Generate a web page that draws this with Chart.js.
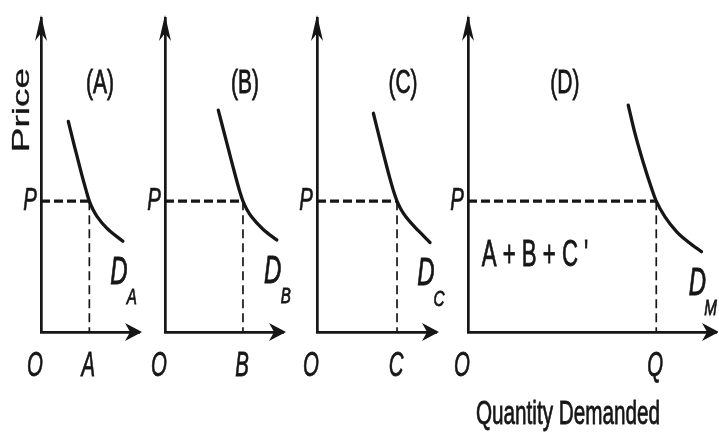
<!DOCTYPE html>
<html>
<head>
<meta charset="utf-8">
<script src="https://cdn.jsdelivr.net/npm/chart.js@4.4.1/dist/chart.umd.min.js"></script>
<style>
    html, body { margin: 0; padding: 0; background: #fff; }
    #wrap { position: relative; width: 719px; height: 432px; overflow: hidden; }
    .panel { position: absolute; top: 0; height: 432px; }
</style>
</head>
<body>
<div id="wrap"></div>
<script>
// Market demand = horizontal sum of individual demand curves.
// Values: price on y, quantity on x.
const priceLevel = 5;
const priceMax = 12;
const panelTitles = ['(A)', '(B)', '(C)', '(D)'];
const qtyTickLabels = ['A', 'B', 'C', 'Q'];
const curveSubscripts = ['A', 'B', 'C', 'M'];
const qtyAtPrice = [1.86, 3.0, 3.08, 7.25];
const qtyAxisMax = [3.77, 4.54, 4.58, 9.55];

const demandQtyA = [1.05, 1.3, 1.55, 1.73, 1.86, 2.0, 2.16, 2.53, 3.15];
const demandPriceA = [8.05, 7.05, 6.08, 5.43, 5.0, 4.68, 4.41, 3.97, 3.47];
const demandQtyB = [2.05, 2.45, 2.7, 2.88, 3.0, 3.15, 3.33, 3.78, 4.3];
const demandPriceB = [8.48, 6.95, 6.0, 5.36, 5.0, 4.68, 4.4, 3.92, 3.52];
const demandQtyC = [2.17, 2.55, 2.8, 2.97, 3.08, 3.23, 3.42, 3.9, 4.35];
const demandPriceC = [8.36, 6.84, 5.89, 5.31, 5.0, 4.69, 4.4, 3.87, 3.42];
const demandQtyM = [6.17, 6.42, 6.74, 7.07, 7.25, 7.58, 8.03, 8.47, 8.99];
const demandPriceM = [8.67, 7.63, 6.51, 5.49, 5.0, 4.41, 3.84, 3.45, 3.07];

const demandQty = [demandQtyA, demandQtyB, demandQtyC, demandQtyM];
const demandPrice = [demandPriceA, demandPriceB, demandPriceC, demandPriceM];

// layout only
const panelLeft = [0, 125, 277, 428];
const yAxisWidth = [41, 40, 40, 40];
const rightPad = [12, 10, 10, 2];
const plotTop = 18;
const xAxisHeight = 100;
const unitPx = 26;
const titleAt = [[2.27, 9.48], [3.08, 9.48], [3.31, 9.48], [3.73, 9.48]];

const ink = '#161616';
const fam = "'Liberation Sans', Arial, sans-serif";

// text in the scan is tall and narrow, so it is drawn squeezed
function drawText(ctx, text, x, y, font, sx, sy, rot, weight) {
    ctx.save();
    ctx.translate(x, y);
    if (rot) ctx.rotate(rot);
    ctx.scale(sx, sy);
    ctx.font = font;
    ctx.textAlign = 'center';
    ctx.textBaseline = 'middle';
    ctx.fillText(text, 0, 0);
    ctx.lineWidth = weight === undefined ? 0.7 : weight;
    ctx.strokeStyle = ink;
    if (ctx.lineWidth > 0) ctx.strokeText(text, 0, 0);
    ctx.restore();
}

function arrowHead(ctx, x, y, dir, len, half) {
    ctx.save();
    ctx.translate(x, y);
    if (dir === 'right') ctx.rotate(Math.PI / 2);
    ctx.beginPath();
    ctx.moveTo(0, -3);
    ctx.lineTo(half, len - 3);
    ctx.lineTo(0, len * 0.7 - 3);
    ctx.lineTo(-half, len - 3);
    ctx.closePath();
    ctx.fill();
    ctx.restore();
}

const decor = {
    id: 'decor',
    afterDraw(chart, args, opts) {
        const { ctx, chartArea: a, scales: { x, y } } = chart;
        ctx.save();
        ctx.fillStyle = ink;

        arrowHead(ctx, a.left, a.top, 'up', 26, 6);
        arrowHead(ctx, a.right, a.bottom, 'right', 17, 9);

        // tick labels from the scales' own ticks
        x.ticks.forEach(t => {
            const px = x.getPixelForValue(t.value) + (t.value === 0 ? -6 : -1);
            drawText(ctx, t.label, px, a.bottom + 34, `italic 30px ${fam}`, 0.68, 1.15);
        });
        y.ticks.forEach(t => {
            drawText(ctx, t.label, a.left - 11, y.getPixelForValue(t.value), `italic 30px ${fam}`, 0.68, 1.05);
        });

        drawText(ctx, opts.title, x.getPixelForValue(opts.titleAt[0]), y.getPixelForValue(opts.titleAt[1]),
            `28px ${fam}`, 0.75, 1.2);

        // D label near the lower end of the demand curve
        const pts = chart.data.datasets[2].data;
        const end = pts[pts.length - 1];
        const ex = x.getPixelForValue(end.x);
        const ey = y.getPixelForValue(end.y);
        drawText(ctx, 'D', ex - 4, ey + 32, `italic 30px ${fam}`, 0.8, 1.3);
        drawText(ctx, opts.sub, ex + 9, ey + 57, `italic 19px ${fam}`, 0.8, 1.15);

        if (opts.priceTitle) {
            drawText(ctx, 'Price', a.left - 19, y.getPixelForValue(8.48), `26px ${fam}`, 1.42, 0.95, -Math.PI / 2, 0.3);
        }
        if (opts.sumText) {
            drawText(ctx, "A + B + C '", x.getPixelForValue(2.58), y.getPixelForValue(2.92), `30px ${fam}`, 0.74, 1.22);
        }
        if (opts.qtyTitle) {
            drawText(ctx, 'Quantity Demanded', x.getPixelForValue(3.85), a.bottom + 83, `30px ${fam}`, 0.69, 1.12);
        }
        ctx.restore();
    }
};

function makePanel(i) {
    const q = qtyAtPrice[i];
    const w = yAxisWidth[i] + Math.round(qtyAxisMax[i] * unitPx) + rightPad[i];
    const holder = document.createElement('div');
    holder.className = 'panel';
    holder.style.left = panelLeft[i] + 'px';
    holder.style.width = w + 'px';
    const canvas = document.createElement('canvas');
    holder.appendChild(canvas);
    document.getElementById('wrap').appendChild(holder);

    const curve = demandQty[i].map((v, k) => ({ x: v, y: demandPrice[i][k] }));

    new Chart(canvas, {
        type: 'scatter',
        data: {
            datasets: [
                {
                    data: [{ x: 0, y: priceLevel }, { x: q, y: priceLevel }],
                    showLine: true, borderColor: ink, borderWidth: 3.2, borderDash: [9, 4],
                    pointRadius: 0, clip: false
                },
                {
                    data: [{ x: q, y: priceLevel }, { x: q, y: 0 }],
                    showLine: true, borderColor: ink, borderWidth: 1.7, borderDash: [9, 5],
                    pointRadius: 0, clip: false
                },
                {
                    data: curve,
                    showLine: true, borderColor: ink, borderWidth: 3.3,
                    tension: 0.4, cubicInterpolationMode: 'monotone',
                    borderCapStyle: 'round',
                    pointRadius: 0, clip: false
                }
            ]
        },
        options: {
            responsive: true,
            maintainAspectRatio: false,
            animation: false,
            events: [],
            layout: { padding: { top: plotTop, right: rightPad[i], left: 0, bottom: 0 } },
            plugins: {
                legend: { display: false },
                tooltip: { enabled: false },
                decor: {
                    title: panelTitles[i],
                    titleAt: titleAt[i],
                    sub: curveSubscripts[i],
                    priceTitle: i === 0,
                    sumText: i === 3,
                    qtyTitle: i === 3
                }
            },
            scales: {
                x: {
                    type: 'linear',
                    min: 0,
                    max: qtyAxisMax[i],
                    grid: { display: false, drawTicks: false },
                    border: { display: true, width: 2.7, color: ink },
                    afterBuildTicks: s => { s.ticks = [{ value: 0 }, { value: q }]; },
                    afterFit: s => { s.height = xAxisHeight; },
                    ticks: {
                        display: false,
                        autoSkip: false,
                        callback: v => (v === 0 ? 'O' : qtyTickLabels[i])
                    }
                },
                y: {
                    type: 'linear',
                    min: 0,
                    max: priceMax,
                    grid: { display: false, drawTicks: false },
                    border: { display: true, width: 2.7, color: ink },
                    afterBuildTicks: s => { s.ticks = [{ value: priceLevel }]; },
                    afterFit: s => { s.width = yAxisWidth[i]; },
                    ticks: {
                        display: false,
                        callback: () => 'P'
                    }
                }
            }
        },
        plugins: [decor]
    });
}

for (let i = 0; i < 4; i++) makePanel(i);
</script>
</body>
</html>
